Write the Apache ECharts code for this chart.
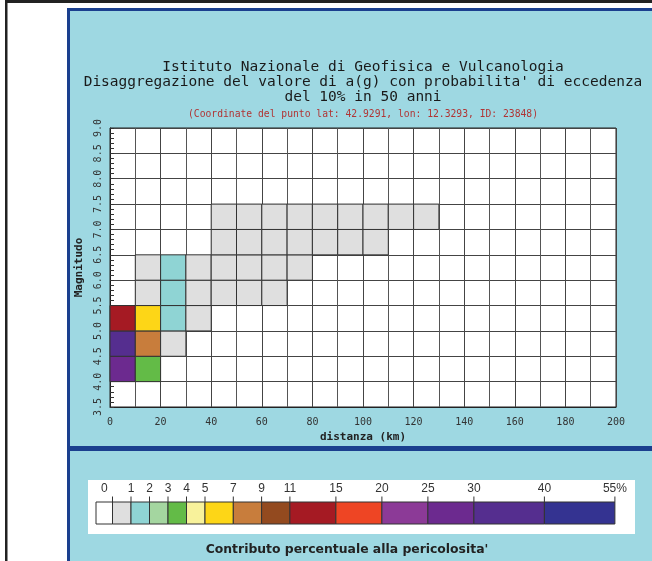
<!doctype html>
<html>
<head>
<meta charset="utf-8">
<title>Disaggregazione del valore di a(g)</title>
<script src="https://cdn.jsdelivr.net/npm/echarts@6/dist/echarts.min.js"></script>
<style>
body { margin: 0; background: #fff; }
#main { width: 652px; height: 561px; }
</style>
</head>
<body>
<div id="main"></div>
<script>
// passo delle celle
var passoDist = 10;   // km
var passoMag = 0.5;

// contributi non nulli: [inizio distanza km, inizio magnitudo, contributo %]
var contributi = [
    [0, 4.0, 27], [10, 4.0, 3.5],
    [0, 4.5, 33], [10, 4.5, 8], [20, 4.5, 0.4],
    [0, 5.0, 12.5], [10, 5.0, 6], [20, 5.0, 1.4], [30, 5.0, 0.3],
    [10, 5.5, 0.6], [20, 5.5, 1.2], [30, 5.5, 0.5], [40, 5.5, 0.3], [50, 5.5, 0.2], [60, 5.5, 0.1],
    [10, 6.0, 0.3], [20, 6.0, 1.1], [30, 6.0, 1.0], [40, 6.0, 0.6], [50, 6.0, 0.4], [60, 6.0, 0.2], [70, 6.0, 0.1],
    [40, 6.5, 0.4], [50, 6.5, 0.3], [60, 6.5, 0.3], [70, 6.5, 0.2], [80, 6.5, 0.1], [90, 6.5, 0.1], [100, 6.5, 0.1],
    [40, 7.0, 0.2], [50, 7.0, 0.2], [60, 7.0, 0.1], [70, 7.0, 0.1], [80, 7.0, 0.1], [90, 7.0, 0.1], [100, 7.0, 0.1], [110, 7.0, 0.05], [120, 7.0, 0.05]
];

// classi della scala colori (limiti superiori, %) e colori
var soglie = [0, 1, 2, 3, 4, 5, 7, 9, 11, 15, 20, 25, 30, 40, 55];
var colori = ['#ffffff', '#dfdfdf', '#8fd4d4', '#a4d6a0', '#63bb47', '#f8f29b', '#fdd617',
              '#c87d3c', '#934a1f', '#a51a23', '#ee4524', '#8c3a97', '#6c2a8f', '#552e8f', '#343391'];
var etichetteScala = ['0', '1', '2', '3', '4', '5', '7', '9', '11', '15', '20', '25', '30', '40', '55%'];

function colore(v) {
    if (v <= 0) return colori[0];
    for (var i = 1; i < soglie.length; i++) {
        if (v <= soglie[i]) return colori[i];
    }
    return colori[colori.length - 1];
}

// larghezze (px) dei riquadri della barra colori
var larghezzeScala = [16.5, 18.5, 18.5, 18.5, 18.5, 18.5, 28.3, 28.3, 28.3, 46, 46, 46, 46, 70.5, 70.5];
var scalaX = 96, scalaY = 502, scalaH = 22;

var blu = '#1a3f8e';
var grafica = [
    // cornice esterna
    { type: 'rect', z: -10, shape: { x: 5, y: 0, width: 647, height: 3 }, style: { fill: '#222' } },
    { type: 'rect', z: -10, shape: { x: 5, y: 0, width: 2.5, height: 561 }, style: { fill: '#222' } },
    // pannello azzurro
    { type: 'rect', z: -10, shape: { x: 67, y: 8, width: 600, height: 600 }, style: { fill: '#9ed8e2' } },
    { type: 'rect', z: -9, shape: { x: 67, y: 8, width: 3, height: 600 }, style: { fill: blu } },
    { type: 'rect', z: -9, shape: { x: 67, y: 8, width: 600, height: 3 }, style: { fill: blu } },
    { type: 'rect', z: -9, shape: { x: 67, y: 446, width: 600, height: 5 }, style: { fill: blu } },
    // riquadro legenda
    { type: 'rect', z: -8, shape: { x: 88, y: 480, width: 547, height: 54 }, style: { fill: '#fff' } },
    // titoli
    { type: 'text', x: 363, y: 67, style: { text: 'Istituto Nazionale di Geofisica e Vulcanologia', align: 'center', verticalAlign: 'middle', fontFamily: 'DejaVu Sans Mono', fontSize: 14.5, fill: '#1a1a1a' } },
    { type: 'text', x: 363, y: 82, style: { text: "Disaggregazione del valore di a(g) con probabilita' di eccedenza", align: 'center', verticalAlign: 'middle', fontFamily: 'DejaVu Sans Mono', fontSize: 14.5, fill: '#1a1a1a' } },
    { type: 'text', x: 363, y: 97, style: { text: 'del 10% in 50 anni', align: 'center', verticalAlign: 'middle', fontFamily: 'DejaVu Sans Mono', fontSize: 14.5, fill: '#1a1a1a' } },
    { type: 'text', x: 363, y: 114, style: { text: '(Coordinate del punto lat: 42.9291, lon: 12.3293, ID: 23848)', align: 'center', verticalAlign: 'middle', fontFamily: 'DejaVu Sans Mono', fontSize: 9.7, fill: '#b03434' } },
    { type: 'text', x: 347, y: 550, style: { text: "Contributo percentuale alla pericolosita'", align: 'center', verticalAlign: 'middle', fontFamily: 'DejaVu Sans', fontWeight: 'bold', fontSize: 12.4, fill: '#222' } }
];

// barra colori
var xc = scalaX;
for (var i = 0; i < colori.length; i++) {
    var w = larghezzeScala[i];
    grafica.push({ type: 'rect', z: 5, shape: { x: xc, y: scalaY, width: w, height: scalaH }, style: { fill: colori[i], stroke: '#333', lineWidth: 1 } });
    grafica.push({ type: 'line', z: 5, shape: { x1: xc + w, y1: scalaY - 5.5, x2: xc + w, y2: scalaY }, style: { stroke: '#333', lineWidth: 1 } });
    var lx = i === 0 ? xc + w / 2 : xc + w;
    grafica.push({ type: 'text', z: 5, x: lx, y: 489, style: { text: etichetteScala[i], align: 'center', verticalAlign: 'middle', fontFamily: 'Liberation Sans', fontSize: 12, fill: '#333' } });
    xc += w;
}

var option = {
    animation: false,
    graphic: grafica,
    grid: { left: 110, top: 128, width: 506, height: 279, show: true, backgroundColor: '#fff', borderColor: '#222', borderWidth: 1 },
    xAxis: {
        type: 'value', min: 0, max: 200, interval: 20,
        name: 'distanza (km)', nameLocation: 'middle', nameGap: 25,
        nameTextStyle: { fontFamily: 'DejaVu Sans Mono', fontWeight: 'bold', fontSize: 11, color: '#222' },
        axisLine: { lineStyle: { color: '#222' } },
        axisTick: { show: false },
        axisLabel: { fontFamily: 'DejaVu Sans Mono', fontSize: 10, color: '#333', margin: 10 },
        splitLine: { lineStyle: { color: '#444' } },
        minorTick: { show: false, splitNumber: 2 },
        minorSplitLine: { show: true, lineStyle: { color: '#555' } }
    },
    yAxis: {
        type: 'value', min: 3.5, max: 9, interval: 0.5,
        name: 'Magnitudo', nameLocation: 'middle', nameGap: 25,
        nameTextStyle: { fontFamily: 'DejaVu Sans Mono', fontWeight: 'bold', fontSize: 11, color: '#222' },
        axisLine: { lineStyle: { color: '#222' } },
        axisTick: { show: true, inside: true, length: 4, lineStyle: { color: '#333' } },
        minorTick: { show: true, splitNumber: 5, length: 4, lineStyle: { color: '#333' } },
        axisLabel: { rotate: 90, fontFamily: 'DejaVu Sans Mono', fontSize: 10, color: '#333', margin: 7,
            formatter: function (v) { return v.toFixed(1); } },
        splitLine: { lineStyle: { color: '#444' } }
    },
    series: [{
        type: 'custom',
        data: contributi,
        encode: { x: 0, y: 1 },
        renderItem: function (params, api) {
            var d = api.value(0), m = api.value(1), v = api.value(2);
            var a = api.coord([d, m + passoMag]);
            var b = api.coord([d + passoDist, m]);
            return {
                type: 'rect',
                shape: { x: a[0], y: a[1], width: b[0] - a[0], height: b[1] - a[1] },
                style: { fill: colore(v), stroke: '#333', lineWidth: 1 }
            };
        }
    }]
};

var myChart = echarts.init(document.getElementById('main'));
myChart.setOption(option);
</script>
</body>
</html>
